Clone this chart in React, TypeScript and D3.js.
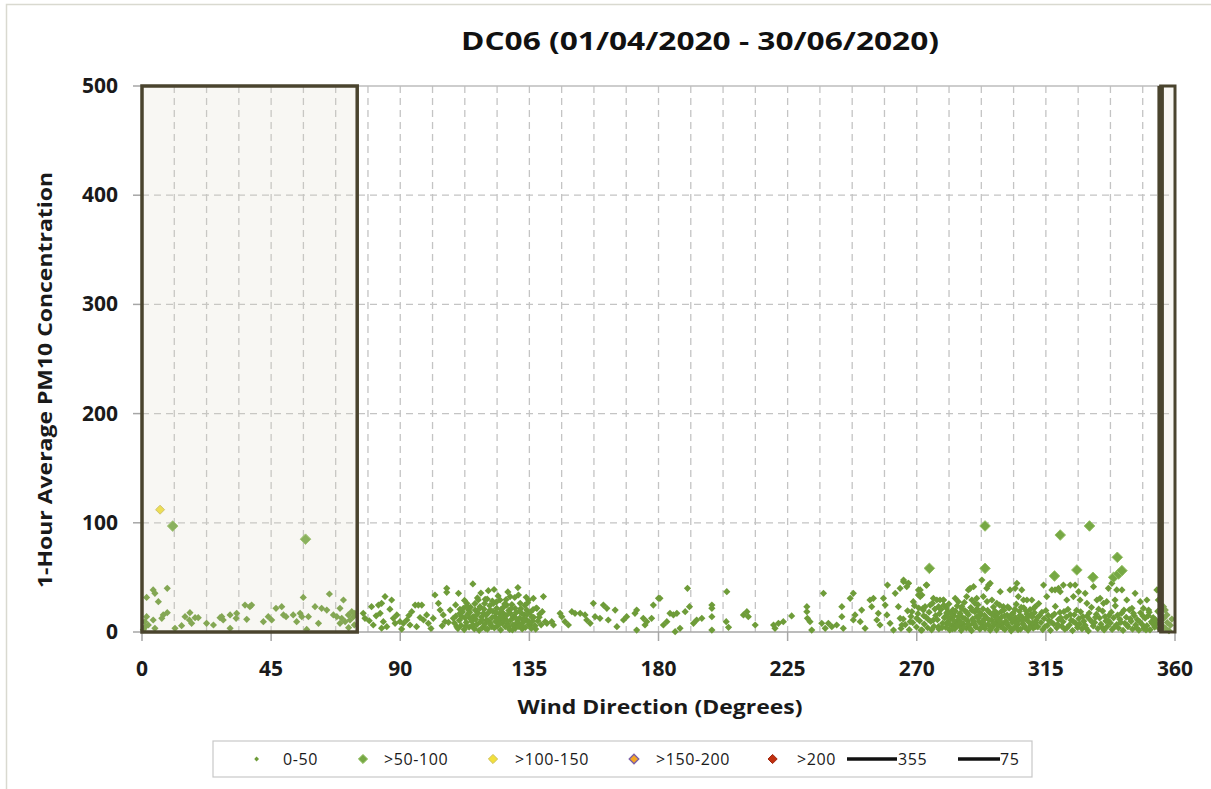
import React from 'react';
import * as d3 from 'd3';

// Wind direction (deg) vs 1-hour PM10 concentration, DC06, Apr-Jun 2020
// values

const xTickValues = [0, 45, 90, 135, 180, 225, 270, 315, 360];
const yTickValues = [0, 100, 200, 300, 400, 500];

// sector boundaries drawn as lines/boxes
const boundaryA = 75;
const boundaryB = 355;

// 0-50 band, sector 0-75
const pmLowNorth: [number, number][] = [
  [1.6, 31.7], [3.9, 38.5], [4.5, 35.4], [5.7, 27.8], [8.8, 40.0], [1.6, 14.0], [1.0, 9.5], [3.9, 11.0],
  [2.2, 6.4], [4.5, 3.4], [7.4, 15.6], [6.9, 12.5], [8.8, 17.7], [11.5, 3.4], [13.8, 5.8], [15.0, 14.0],
  [16.7, 17.7], [17.3, 7.9], [16.5, 11.0], [18.5, 13.1], [19.6, 13.1], [22.5, 7.9], [24.9, 6.4], [27.2, 13.1],
  [28.3, 11.0], [27.8, 14.0], [30.7, 15.6], [30.7, 3.4], [33.0, 17.1], [32.8, 12.5], [35.9, 24.7], [37.6, 23.2],
  [38.2, 24.7], [36.5, 11.6], [42.3, 9.5], [44.0, 14.0], [45.2, 11.0], [46.7, 21.7], [48.7, 23.2], [49.3, 15.6],
  [50.2, 14.0], [52.7, 15.6], [53.9, 9.5], [55.1, 17.1], [55.7, 14.0], [56.2, 31.7], [57.4, 2.4], [58.0, 14.0],
  [60.3, 23.2], [61.5, 7.9], [62.6, 21.7], [64.4, 20.1], [65.3, 34.8], [66.7, 15.6], [67.9, 14.0], [69.0, 21.7],
  [69.0, 7.9], [70.2, 29.3], [69.6, 12.5], [70.8, 9.5], [71.9, 15.6], [73.1, 18.6], [73.7, 14.0], [74.2, 17.1],
  [72.5, 11.0], [0.5, 2.0], [1.2, 4.8], [72.0, 4.0], [74.0, 6.5],
];

// 0-50 band, 75-180
const pmLowEast: [number, number][] = [
  [77.1, 17.1], [77.7, 12.5], [80.0, 23.2], [80.6, 6.4], [82.4, 24.7], [83.0, 17.1], [83.5, 26.3], [84.1, 9.5],
  [84.7, 32.4], [85.3, 4.9], [83.5, 3.5], [87.0, 29.3], [87.6, 12.5], [88.2, 7.9], [88.8, 15.6], [89.9, 9.5],
  [91.1, 7.9], [92.3, 11.0], [93.4, 6.4], [94.0, 18.6], [95.2, 24.7], [96.3, 24.7], [97.5, 24.7], [95.7, 4.9],
  [98.1, 11.0], [99.2, 15.6], [99.8, 7.9], [101.5, 12.5], [102.1, 33.9], [103.3, 26.3], [103.9, 20.1], [105.0, 15.6],
  [105.6, 9.5], [106.2, 40.0], [106.2, 36.3], [107.4, 20.1], [108.5, 12.5], [109.7, 4.9], [110.3, 35.4], [110.8, 17.1],
  [112.0, 21.7], [113.2, 26.3], [114.3, 12.5], [115.3, 44.0], [115.5, 6.4], [116.1, 20.1], [117.2, 29.3], [117.8, 23.2],
  [119.0, 17.1], [119.6, 29.9], [120.1, 11.0], [120.7, 37.8], [121.3, 20.1], [121.9, 4.9], [122.5, 26.3], [123.0, 14.0],
  [123.6, 21.7], [124.8, 29.3], [125.4, 9.5], [125.9, 17.1], [127.1, 24.7], [127.7, 4.9], [128.3, 32.4], [129.4, 14.0],
  [130.0, 21.7], [130.6, 7.9], [131.2, 33.9], [131.8, 26.3], [132.3, 17.1], [132.9, 11.0], [134.1, 20.1], [134.7, 29.3],
  [135.2, 6.4], [135.8, 14.0], [136.4, 30.8], [137.6, 21.7], [139.9, 32.4], [140.5, 9.5], [141.1, 7.9], [142.8, 9.5],
  [143.4, 6.4], [145.7, 17.1], [146.3, 14.0], [147.4, 9.5], [148.6, 6.4], [149.8, 18.6], [150.9, 17.1], [152.7, 17.1],
  [154.4, 15.6], [155.0, 11.0], [156.2, 7.9], [157.3, 26.3], [157.9, 14.0], [159.6, 12.5], [160.8, 24.7], [162.0, 21.7],
  [162.5, 11.0], [164.9, 20.1], [165.5, 4.9], [167.8, 11.0], [168.9, 14.0], [171.8, 17.1], [172.4, 20.1], [172.4, 1.8],
  [174.7, 12.5], [175.3, 6.4], [175.9, 9.5], [177.6, 12.5], [178.2, 24.7], [180.0, 30.8],
  // dense cluster 108-140
  [108.9, 8.2], [109.4, 14.6], [110.1, 3.1], [110.6, 10.7], [111.2, 6.0], [111.7, 18.4], [112.3, 2.2], [112.6, 12.9],
  [113.0, 8.8], [113.6, 16.3], [114.0, 4.5], [114.5, 22.7], [114.9, 9.9], [115.4, 14.1], [115.8, 2.9], [116.3, 11.6],
  [116.7, 6.8], [117.1, 17.4], [117.5, 1.5], [117.9, 9.2], [118.3, 13.7], [118.7, 4.2], [119.2, 20.9], [119.5, 7.3],
  [119.9, 15.5], [120.4, 2.6], [120.8, 10.3], [121.2, 24.1], [121.6, 6.2], [122.0, 13.2], [122.3, 18.8], [122.8, 3.7],
  [123.2, 9.6], [123.5, 27.5], [123.9, 5.4], [124.3, 12.1], [124.6, 16.9], [125.0, 1.9], [125.5, 8.1], [125.8, 22.3],
  [126.2, 11.4], [126.6, 4.8], [127.0, 15.1], [127.4, 7.7], [127.8, 19.6], [128.1, 2.3], [128.5, 10.8], [128.9, 25.2],
  [129.3, 6.5], [129.7, 13.9], [130.1, 3.4], [130.4, 17.8], [130.9, 9.1], [131.3, 5.1], [131.6, 12.7], [132.0, 21.4],
  [132.5, 2.8], [132.8, 8.6], [133.2, 15.7], [133.6, 4.1], [134.0, 11.2], [134.4, 26.8], [134.8, 7.0], [135.3, 18.1],
  [135.7, 3.3], [136.1, 9.8], [136.5, 13.4], [137.0, 5.8], [137.4, 22.0], [138.0, 10.1], [138.6, 16.4], [139.1, 6.6],
  [112.4, 28.9], [116.9, 31.2], [119.4, 26.1], [124.1, 33.0], [126.9, 29.7], [129.9, 31.6], [133.4, 24.3], [118.1, 35.6],
  [122.7, 38.9], [127.5, 36.7], [131.0, 40.7], [109.3, 24.8], [113.8, 20.2], [116.0, 25.9], [120.3, 30.2], [125.1, 20.5],
  [128.7, 21.6], [133.9, 31.8], [104.6, 5.7], [106.8, 8.9], [100.7, 3.2], [96.9, 13.3], [93.0, 15.1], [90.5, 2.7],
  [86.4, 20.9], [79.2, 10.3], [81.6, 14.8],
  [110.8, 20.8], [111.5, 13.9], [112.9, 5.5], [113.3, 23.8], [114.2, 18.0], [115.1, 5.7], [116.5, 15.4], [117.7, 21.6],
  [118.5, 10.9], [119.7, 3.2], [120.6, 17.3], [121.4, 8.0], [122.1, 28.3], [123.4, 17.7], [124.5, 7.6], [125.3, 13.8],
  [126.4, 25.7], [127.2, 10.3], [128.3, 17.3], [129.1, 2.0], [130.3, 12.4], [131.5, 19.1], [132.2, 6.2], [133.0, 12.2],
  [134.2, 16.3], [135.0, 9.3], [136.3, 20.6], [137.2, 2.7], [138.4, 13.6], [139.5, 18.6],
];

// 0-50 band, 180-282
const pmLowSouth: [number, number][] = [
  [181.7, 6.4], [182.9, 9.5], [180.5, 30.8], [184.0, 17.1], [185.2, 15.6], [185.8, 0.3], [186.4, 17.1], [187.5, 3.4],
  [189.3, 18.6], [190.1, 40.0], [190.8, 23.2], [192.2, 7.9], [193.3, 11.0], [195.1, 12.5], [198.6, 24.7], [198.6, 21.7],
  [198.6, 14.0], [198.6, 1.8], [203.8, 36.9], [203.6, 9.5], [204.4, 4.3], [209.6, 15.6], [210.8, 18.6], [211.3, 14.0],
  [213.7, 6.4], [220.1, 6.4], [220.6, 3.4], [221.8, 7.9], [223.5, 9.5], [226.4, 14.7], [231.7, 23.2], [231.7, 18.6],
  [231.9, 12.5], [232.8, 9.5], [233.4, 1.8], [237.5, 35.4], [236.9, 7.9], [238.1, 3.4], [239.2, 7.9], [240.4, 4.9],
  [242.1, 6.4], [243.9, 23.2], [243.9, 14.0], [244.4, 3.4], [246.8, 30.8], [247.9, 35.4], [247.9, 11.0], [248.5, 15.6],
  [250.3, 9.5], [250.8, 20.1], [252.0, 3.4], [253.7, 29.3], [254.3, 23.2], [254.9, 30.8], [256.1, 11.0], [256.6, 17.1],
  [257.2, 6.4], [258.4, 30.8], [259.0, 24.7], [259.6, 15.6], [259.8, 43.0], [260.7, 7.9], [261.9, 1.8], [262.5, 35.4],
  [263.6, 23.2], [264.2, 12.5], [264.8, 6.4], [265.4, 46.1], [266.5, 41.5], [267.1, 44.6], [267.7, 9.5], [268.3, 18.6],
  [268.8, 27.8], [270.0, 12.5], [270.6, 33.9], [271.2, 38.5], [271.8, 1.8], [272.3, 20.1], [273.3, 43.0], [274.7, 24.7],
  [275.8, 11.0], [277.0, 29.3], [277.6, 4.9], [278.1, 21.7], [279.3, 29.3], [279.9, 14.0], [280.5, 7.9], [281.0, 18.6],
];

// 0-50 band, 264-360 (densest sector)
const pmLowWest: [number, number][] = [
  [265.4, 47.6], [267.1, 44.6], [264.2, 40.0], [270.6, 38.5], [271.2, 32.4], [271.8, 33.9], [273.5, 43.0], [272.9, 23.2],
  [275.8, 30.8], [277.6, 23.2], [278.1, 29.3], [279.3, 29.3], [283.4, 30.8], [284.5, 27.8], [285.7, 23.2], [287.4, 32.4],
  [288.0, 38.5], [288.6, 40.0], [289.2, 29.3], [289.8, 41.5], [290.3, 26.3], [290.9, 30.8], [292.7, 47.6], [293.2, 32.4],
  [294.4, 40.0], [295.0, 43.0], [295.6, 44.6], [296.2, 29.3], [297.9, 26.3], [299.1, 36.9], [300.2, 23.2], [302.5, 38.5],
  [304.3, 40.0], [304.9, 44.6], [305.4, 32.4], [306.6, 38.5], [307.2, 29.3], [308.4, 29.3], [310.1, 29.3], [311.3, 23.2],
  [314.2, 43.0], [315.3, 32.4], [317.1, 38.5], [318.2, 38.5], [319.4, 40.0], [320.0, 36.9], [321.1, 43.0], [322.3, 29.3],
  [323.5, 43.0], [324.6, 32.4], [325.2, 43.0], [326.4, 36.9], [326.9, 29.3], [328.7, 35.4], [329.3, 26.3], [331.6, 41.5],
  [332.8, 29.3], [333.9, 30.8], [335.1, 26.3], [336.2, 27.8], [336.8, 40.0], [338.0, 44.6], [339.1, 29.3], [339.7, 38.5],
  [341.5, 38.5], [343.2, 29.3], [345.0, 21.7], [346.1, 35.4], [347.9, 27.8], [349.0, 21.7], [350.2, 29.3], [350.8, 20.1],
  [353.7, 38.5], [354.2, 29.3], [356.0, 23.2], [356.6, 20.1], [357.2, 15.6],
  [264.5, 3.2], [265.3, 11.8], [266.0, 6.7], [266.8, 19.4], [267.4, 2.1], [268.0, 14.3], [268.6, 8.5], [269.2, 24.1],
  [269.9, 4.6], [270.4, 16.8], [271.0, 10.2], [271.5, 1.7], [272.1, 21.5], [272.6, 7.3], [273.2, 13.6], [273.8, 3.9],
  [274.3, 18.2], [274.9, 9.7], [275.5, 26.4], [276.0, 5.2], [276.6, 15.1], [277.2, 11.3], [277.7, 2.8], [278.4, 20.6],
  [279.0, 7.9], [279.6, 13.0],
  [280.1, 4.1], [280.4, 17.5], [280.8, 9.3], [281.2, 25.7], [281.5, 1.9], [281.9, 12.4], [282.3, 6.1], [282.6, 20.2],
  [283.0, 14.8], [283.3, 3.0], [283.7, 8.7], [284.1, 23.9], [284.4, 11.1], [284.8, 5.5], [285.1, 17.0], [285.5, 1.4],
  [285.9, 13.5], [286.2, 7.6], [286.6, 27.1], [286.9, 19.3], [287.3, 3.6], [287.7, 10.4], [288.0, 15.9], [288.4, 6.3],
  [288.8, 22.4], [289.1, 1.2], [289.5, 12.0], [289.8, 8.0], [290.2, 18.6], [290.6, 4.4], [290.9, 14.2], [291.3, 25.0],
  [291.6, 9.6], [292.0, 2.5], [292.4, 16.1], [292.7, 6.9], [293.1, 21.1], [293.5, 11.7], [293.8, 3.3], [294.2, 13.3],
  [294.5, 27.9], [294.9, 7.1], [295.3, 18.0], [295.6, 1.6], [296.0, 10.9], [296.4, 5.0], [296.7, 22.8], [297.1, 14.5],
  [297.5, 8.4], [297.8, 2.0], [298.2, 16.7], [298.5, 11.5], [298.9, 24.6], [299.3, 4.8], [299.6, 13.8], [300.0, 7.5],
  [300.4, 19.9], [300.7, 2.4], [301.1, 10.0], [301.5, 15.4], [301.8, 5.9], [302.2, 21.8], [302.5, 12.6], [302.9, 1.1],
  [303.3, 8.9], [303.6, 17.3], [304.0, 4.0], [304.4, 13.1], [304.7, 25.5], [305.1, 6.6], [305.5, 10.6], [305.8, 19.0],
  [306.2, 2.7], [306.6, 14.0], [306.9, 7.8], [307.3, 22.1], [307.7, 4.3], [308.0, 11.9], [308.4, 16.4], [308.8, 1.8],
  [309.1, 9.0], [309.5, 20.4], [309.9, 5.7], [310.2, 13.9], [310.6, 3.5], [311.0, 17.7], [311.3, 8.2], [311.7, 11.0],
  [312.2, 4.7], [312.8, 15.0], [313.3, 8.6], [313.9, 2.2], [314.4, 12.3], [315.0, 19.7], [315.5, 6.0], [316.1, 10.5],
  [316.6, 1.5], [317.2, 14.6], [317.7, 7.4], [318.3, 23.4], [318.8, 3.8], [319.4, 11.4], [319.9, 17.9], [320.5, 5.3],
  [321.0, 9.4], [321.6, 2.6], [322.1, 13.7], [322.7, 20.8], [323.2, 6.4], [323.8, 10.8], [324.3, 1.3], [324.9, 15.8],
  [325.4, 8.1], [326.0, 4.2], [326.5, 12.2], [327.1, 18.5], [327.6, 2.9], [328.2, 9.9], [328.7, 6.2], [329.3, 14.4],
  [329.8, 1.0], [330.4, 11.2], [330.9, 22.6], [331.5, 5.6], [332.0, 8.8], [332.6, 16.2], [333.1, 3.1], [333.7, 12.8],
  [334.2, 7.2], [334.8, 19.2], [335.3, 1.9], [335.9, 10.1], [336.4, 5.1], [337.0, 15.3], [337.5, 8.3], [338.1, 2.3],
  [338.6, 13.0], [339.2, 24.0], [339.7, 6.8], [340.3, 3.7], [340.8, 11.6], [341.4, 17.2], [341.9, 1.4], [342.5, 8.0],
  [343.0, 13.5], [343.6, 4.9], [344.1, 20.3], [344.7, 9.8], [345.2, 2.6], [345.8, 14.9], [346.3, 6.5], [346.9, 11.3],
  [347.4, 1.7], [348.0, 17.6], [348.5, 7.0], [349.1, 3.4], [349.6, 12.6], [350.2, 5.8], [350.7, 15.0], [351.3, 2.0],
  [351.8, 9.5], [352.4, 13.2], [352.9, 4.5], [353.5, 7.7], [354.0, 18.9], [354.6, 2.9], [355.1, 10.7], [355.7, 5.5],
  [356.2, 12.9], [356.8, 3.0], [357.3, 8.6], [357.9, 1.2], [358.4, 6.2], [358.9, 11.8],
  [280.3, 21.9], [280.9, 13.2], [281.4, 7.0], [282.0, 16.4], [282.5, 2.9], [282.9, 10.5], [283.5, 19.1], [284.0, 6.3],
  [284.6, 14.0], [285.3, 9.1], [285.7, 21.4], [286.4, 4.5], [286.8, 12.2], [287.5, 17.9], [287.9, 7.0], [288.6, 2.8],
  [289.3, 19.8], [289.7, 10.0], [290.4, 6.0], [291.0, 21.2], [291.5, 12.9], [291.9, 17.8], [292.5, 4.1], [293.0, 9.4],
  [293.6, 15.3], [294.0, 6.0], [294.7, 19.8], [295.1, 11.2], [295.8, 3.9], [296.2, 16.0], [296.9, 8.0], [297.3, 19.0],
  [297.9, 12.0], [298.4, 5.8], [299.0, 9.9], [299.5, 18.8], [300.1, 3.5], [300.6, 14.8], [301.3, 7.9], [301.7, 23.0],
  [302.4, 4.2], [303.0, 15.9], [303.5, 11.0], [304.2, 20.8], [304.6, 8.3], [305.3, 2.1], [305.9, 15.0], [306.4, 22.6],
  [307.0, 10.9], [307.5, 5.8], [308.2, 19.0], [308.6, 13.4], [309.3, 3.9], [309.8, 16.0], [310.4, 8.4], [310.9, 22.0],
  [311.5, 5.0], [312.0, 13.3], [312.5, 26.0], [313.6, 18.1], [314.7, 5.0], [315.8, 15.2], [316.9, 9.0], [318.0, 16.5],
  [319.1, 6.9], [320.2, 13.0], [321.3, 18.6], [322.4, 4.0], [323.5, 15.9], [324.6, 9.6], [325.7, 19.9], [326.8, 7.3],
  [327.9, 14.2], [329.0, 3.6], [330.1, 17.4], [331.2, 9.0], [332.3, 13.4], [333.4, 20.9], [334.5, 4.4], [335.6, 14.1],
  [336.7, 10.4], [337.8, 18.2], [338.9, 4.6], [340.0, 15.5], [341.1, 8.9], [342.2, 20.0], [343.3, 6.4], [344.4, 12.0],
  [345.5, 17.1], [346.6, 3.9], [347.7, 9.5], [348.8, 14.7], [349.9, 1.9], [351.0, 18.0], [352.1, 7.9], [353.2, 11.2],
  [270.7, 22.0], [272.4, 14.9], [274.0, 11.5], [275.2, 2.0], [276.3, 21.0], [277.9, 16.8], [278.8, 4.0], [279.4, 24.6],
];

// >50-100 band
const pmMid: [number, number][] = [
  [10.7, 97], [57.0, 85], [274.4, 58.3], [293.8, 97.1], [293.8, 58.3], [320.0, 88.8], [330.2, 97.1],
  [318.0, 51.3], [325.8, 56.8], [331.4, 50.1], [339.9, 68.4], [338.6, 50.1], [340.3, 53.1], [341.5, 56.2],
];

// >100-150 band
const pmHigh: [number, number][] = [[6.3, 112]];

const legendItems = ['0-50', '>50-100', '>100-150', '>150-200', '>200', '355', '75'];

const FONT = "'Open Sans', 'Liberation Sans', Arial, sans-serif";

const diamond = (r: number) => `M0,${-r}L${r},0L0,${r}L${-r},0Z`;

export default function App() {
  const x = d3.scaleLinear().domain([0, 360]).range([142, 1175]);
  const y = d3.scaleLinear().domain([0, 500]).range([632, 86]);
  const minorX = d3.range(11.25, 360, 11.25);
  const pmLow = [...pmLowNorth, ...pmLowEast, ...pmLowSouth, ...pmLowWest];

  const lx = [256.6, 363, 493, 634, 772.6];
  const tx = [283, 384, 515, 656, 797];

  return (
    <svg width={1211} height={789} style={{ position: 'absolute', left: 0, top: 0, background: '#fff' }} fontFamily={FONT}>
      {/* outer chart frame */}
      <rect x={6.5} y={4.5} width={1400} height={1000} fill="none" stroke="#d9d9d0" strokeWidth={1.5} />

      <text x={700} y={50} textAnchor="middle" fontSize={25} fontWeight={700} fill="#111" textLength={478} lengthAdjust="spacingAndGlyphs">
        DC06 (01/04/2020 - 30/06/2020)
      </text>

      {/* grid */}
      <g stroke="#c4c4c4" strokeWidth={1.3} strokeDasharray="7,5">
        {minorX.map(d => (
          <line key={'gx' + d} x1={x(d)} x2={x(d)} y1={y(500)} y2={y(0)} />
        ))}
        {yTickValues.filter(d => d > 0 && d < 500).map(d => (
          <line key={'gy' + d} x1={x(0)} x2={x(360)} y1={y(d)} y2={y(d)} />
        ))}
      </g>
      <line x1={x(0)} x2={x(360)} y1={y(500)} y2={y(500)} stroke="#bdbdbd" strokeWidth={1.5} />

      {/* axes */}
      <line x1={x(0)} x2={x(360)} y1={y(0)} y2={y(0)} stroke="#a6a6a6" strokeWidth={1.5} />
      <line x1={x(0)} x2={x(0)} y1={y(0)} y2={y(500)} stroke="#a6a6a6" strokeWidth={1.5} />
      {xTickValues.map(d => (
        <g key={'xt' + d}>
          <line x1={x(d)} x2={x(d)} y1={y(0)} y2={y(0) + 9} stroke="#a6a6a6" strokeWidth={1.5} />
          <text x={x(d)} y={676} textAnchor="middle" fontSize={21} fontWeight={700} fill="#1a1a1a">{d}</text>
        </g>
      ))}
      {yTickValues.map(d => (
        <g key={'yt' + d}>
          <line x1={x(0) - 9} x2={x(0)} y1={y(d)} y2={y(d)} stroke="#a6a6a6" strokeWidth={1.5} />
          <text x={118} y={y(d) + 7} textAnchor="end" fontSize={21} fontWeight={700} fill="#1a1a1a">{d}</text>
        </g>
      ))}

      <text x={660} y={714} textAnchor="middle" fontSize={19} fontWeight={700} fill="#1a1a1a" textLength={285} lengthAdjust="spacingAndGlyphs">
        Wind Direction (Degrees)
      </text>
      <text transform="translate(52,380) rotate(-90)" textAnchor="middle" fontSize={19} fontWeight={700} fill="#1a1a1a" textLength={416} lengthAdjust="spacingAndGlyphs">
        1-Hour Average PM10 Concentration
      </text>

      {/* points */}
      <g fill="#6e9c39">
        {pmLow.map((p, i) => (
          <path key={'l' + i} d={diamond(3.6)} transform={`translate(${x(p[0])},${y(p[1])})`} />
        ))}
      </g>
      <g fill="#76a844" stroke="#94c064" strokeWidth={1}>
        {pmMid.map((p, i) => (
          <path key={'m' + i} d={diamond(5.3)} transform={`translate(${x(p[0])},${y(p[1])})`} />
        ))}
      </g>
      <g fill="#f2e03a" stroke="#cdbf5a" strokeWidth={1}>
        {pmHigh.map((p, i) => (
          <path key={'h' + i} d={diamond(4.5)} transform={`translate(${x(p[0])},${y(p[1])})`} />
        ))}
      </g>

      {/* sector boxes */}
      <rect x={x(0)} y={y(500)} width={x(boundaryA) - x(0)} height={y(0) - y(500)} fill="#ddd6c2" fillOpacity={0.2} stroke="#4a442e" strokeWidth={3.5} />
      <rect x={x(boundaryB)} y={y(500)} width={x(360) - x(boundaryB)} height={y(0) - y(500)} fill="#ddd6c2" fillOpacity={0.2} stroke="#4a442e" strokeWidth={3} />
      <line x1={x(boundaryB)} x2={x(boundaryB)} y1={y(500)} y2={y(0)} stroke="#4a442e" strokeWidth={6.5} />

      {/* legend */}
      <rect x={213} y={741} width={819} height={36} fill="#fff" stroke="#c8c8c8" strokeWidth={1.2} />
      <path d={diamond(2.4)} transform={`translate(${lx[0]},759)`} fill="#6e9c39" />
      <path d={diamond(4.6)} transform={`translate(${lx[1]},759)`} fill="#76a844" stroke="#94c064" />
      <path d={diamond(4.6)} transform={`translate(${lx[2]},759)`} fill="#f2e03a" stroke="#cdbf5a" />
      <path d={diamond(4.8)} transform={`translate(${lx[3]},759)`} fill="#f5a623" stroke="#7b5fa8" strokeWidth={1.3} />
      <path d={diamond(4.6)} transform={`translate(${lx[4]},759)`} fill="#c0300f" stroke="#a02810" />
      <line x1={847} x2={897} y1={759} y2={759} stroke="#111" strokeWidth={3.5} />
      <line x1={958} x2={1000} y1={759} y2={759} stroke="#111" strokeWidth={3.5} />
      <g fontSize={16} fill="#1a1a1a" letterSpacing={0.6}>
        {legendItems.slice(0, 5).map((t, i) => (
          <text key={t} x={tx[i]} y={764.5}>{t}</text>
        ))}
        <text x={898} y={764.5}>{legendItems[5]}</text>
        <text x={1000} y={764.5}>{legendItems[6]}</text>
      </g>
    </svg>
  );
}
